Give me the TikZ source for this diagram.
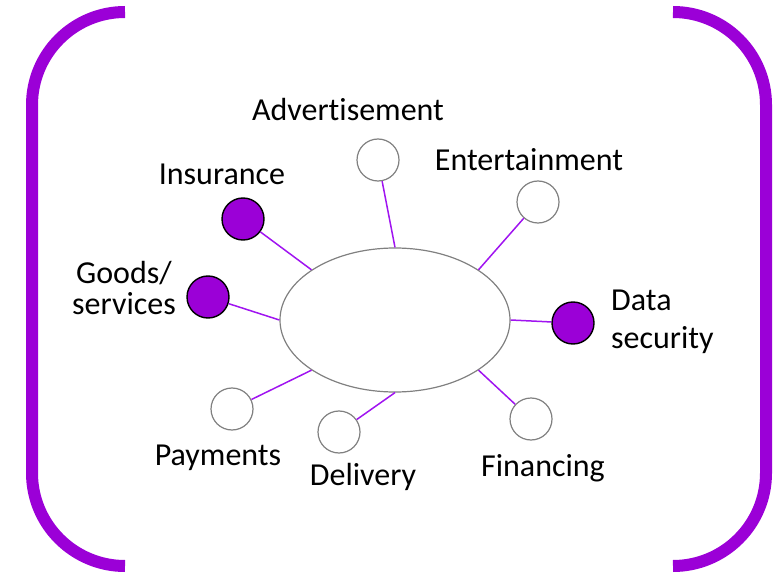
\documentclass[tikz,border=0pt]{standalone}
\usepackage{fontspec}
\setmainfont{Carlito}[Ligatures=NoCommon]
\usetikzlibrary{shapes.geometric}

\definecolor{bracketpurple}{RGB}{155,0,215}
\definecolor{linkpurple}{RGB}{160,20,240}

\tikzset{
	hub/.style={ellipse, draw=gray, line width=1.2pt, minimum width=230pt,
		minimum height=144pt, inner sep=0pt},
	blank/.style={circle, draw=gray, fill=white, line width=1.2pt,
		minimum size=42pt, inner sep=0pt},
	marked/.style={circle, draw=black, fill=bracketpurple, line width=1.4pt,
		minimum size=42pt, inner sep=0pt},
	link/.style={draw=linkpurple, line width=1.5pt},
	lbl/.style={inner sep=0pt, font=\fontsize{32}{38}\selectfont},
	bracket/.style={draw=bracketpurple, line width=12pt, rounded corners=93pt}
}

\begin{document}
\begin{tikzpicture}[x=1pt, y=-1pt]
    \useasboundingbox (0, 0) rectangle (776, 577);

    \draw[bracket] (125, 12) -- (32, 12) -- (32, 566) -- (125, 566);
    \draw[bracket] (673, 12) -- (766, 12) -- (766, 566) -- (673, 566);

    \node[hub] (hub) at (395, 320) {};

    \node[blank] (adv) at (378, 160) {};
    \node[blank] (ent) at (538, 202) {};
    \node[marked] (ins) at (243, 219) {};
    \node[marked] (goods) at (208, 297) {};
    \node[marked] (data) at (573, 323) {};
    \node[blank] (pay) at (232, 409) {};
    \node[blank] (deliv) at (339, 432) {};
    \node[blank] (fin) at (531, 419) {};

    \draw[link] (adv) -- (hub.north);
    \draw[link] (ent) -- (hub.31);
    \draw[link] (ins) -- (hub.149);
    \draw[link] (goods) -- (hub.west);
    \draw[link] (data) -- (hub.east);
    \draw[link] (pay) -- (hub.211);
    \draw[link] (deliv) -- (hub.south);
    \draw[link] (fin) -- (hub.329);

    \node[lbl, anchor=base] (advtext) at (348, 121) {Advertisement};
    \node[lbl, anchor=base] (enttext) at (529, 171) {Entertainment};
    \node[lbl, anchor=base] (instext) at (222, 185) {Insurance};
    \node[lbl, align=center, font=\fontsize{32}{31}\selectfont]
	(goodstext) at (124, 288) {Goods/\\services};
    \node[lbl, align=left, anchor=west, font=\fontsize{32}{38}\selectfont]
	(datatext) at (611, 322) {Data\\security};
    \node[lbl, anchor=base] (paytext) at (218, 465) {Payments};
    \node[lbl, anchor=base] (delivtext) at (363, 485) {Delivery};
    \node[lbl, anchor=base] (fintext) at (543, 476) {Financing};
\end{tikzpicture}
\end{document}
